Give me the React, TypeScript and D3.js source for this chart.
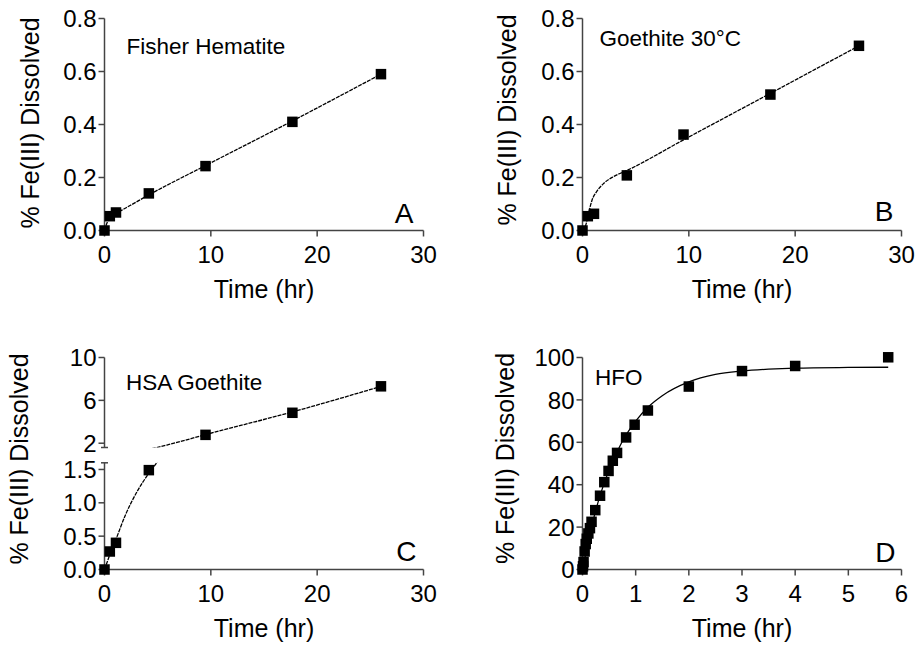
import React from "react";
import * as d3 from "d3";

// sampling times (hr) shared by panels A-C
const timeHr = [0, 0.5, 1.08, 4.17, 9.5, 17.67, 26];
const fisherHematite = [0, 0.054, 0.068, 0.14, 0.243, 0.41, 0.59];
const goethite30 = [0, 0.054, 0.063, 0.208, 0.362, 0.513, 0.697];
const hsaGoethite = [0, 0.27, 0.4, 1.49, 2.78, 4.84, 7.31];

// fitted curves
const fitTimeA = [0, 0.25, 0.5, 1, 2, 4.2, 9.5, 17.6, 26];
const fitA = [0, 0.03, 0.048, 0.062, 0.085, 0.135, 0.245, 0.412, 0.59];
const fitTimeB = [0, 0.3, 0.6, 0.9, 1.3, 2, 3, 4.2, 9.5, 17.6, 26];
const fitB = [0, 0.02, 0.07, 0.115, 0.145, 0.178, 0.205, 0.227, 0.342, 0.516, 0.697];
const fitTimeC = [0, 0.5, 1, 2, 3, 4.2, 5, 6, 9.5, 17.6, 26];
const fitC = [0, 0.22, 0.42, 0.83, 1.15, 1.45, 1.62, 1.86, 2.8, 4.9, 7.3];

// HFO
const timeHFO = [0, 0.01, 0.02, 0.04, 0.06, 0.08, 0.11, 0.14, 0.17, 0.24, 0.33, 0.41, 0.49, 0.57, 0.65, 0.82, 0.98, 1.23, 2, 3, 4, 5.75];
const hfo = [0, 1.5, 3.5, 8.5, 12, 14.5, 17, 19.5, 22.5, 28, 34.8, 41.2, 46.5, 51.3, 55, 62.3, 68.3, 75, 86.3, 93.6, 96, 100.1];
const fitTimeD = [0, 0.25, 0.5, 0.75, 1, 1.25, 1.5, 2, 2.5, 3, 3.5, 4, 5, 5.75];
const fitD = [0, 28, 47, 60.5, 70, 77, 82, 88.5, 92, 93.6, 94.5, 95, 95.3, 95.4];

const xTicksHr = [0, 10, 20, 30];
const xTicksHFO = [0, 1, 2, 3, 4, 5, 6];
const yTicksFrac = [0, 0.2, 0.4, 0.6, 0.8];
const yTicksCLow = [0, 0.5, 1.0, 1.5];
const yTicksCHigh = [2, 6, 10];
const yTicksHFO = [0, 20, 40, 60, 80, 100];

const FONT = "Liberation Sans, Arial, Helvetica, sans-serif";
const AXIS = "#444";

type Seg = {
  domain: [number, number];
  range: [number, number];
  ticks: number[];
  fmt: (v: number) => string;
};

type PanelProps = {
  id: string;
  left: number;
  right: number;
  bottom: number;
  xDomain: [number, number];
  xTicks: number[];
  segs: Seg[];
  times: number[];
  values: number[];
  fitT: number[];
  fitV: number[];
  dashed: boolean;
  label: string;
  labelX: number;
  labelY: number;
  letter: string;
  letterX: number;
  letterY: number;
  titleX: number;
  titleY: number;
};

function Panel(p: PanelProps) {
  const x = d3.scaleLinear().domain(p.xDomain).range([p.left, p.right]);
  const fitPts = p.fitT.map((t, i) => [t, p.fitV[i]] as [number, number]);
  const broken = p.segs.length > 1;
  const sq = 10.5;

  return (
    <g>
      {/* x axis */}
      <line x1={p.left} x2={p.right} y1={p.bottom} y2={p.bottom} stroke={AXIS} strokeWidth={1.5} />
      {p.xTicks.map((t) => (
        <g key={"xt" + t}>
          <line x1={x(t)} x2={x(t)} y1={p.bottom} y2={p.bottom + 6} stroke={AXIS} strokeWidth={1.5} />
          <text x={x(t)} y={p.bottom + 32} textAnchor="middle" fontSize={24} fontFamily={FONT}>
            {t}
          </text>
        </g>
      ))}
      <text x={(p.left + p.right) / 2} y={p.bottom + 67.5} textAnchor="middle" fontSize={25} fontFamily={FONT}>
        Time (hr)
      </text>
      <text
        transform={`translate(${p.titleX},${p.titleY}) rotate(-90)`}
        textAnchor="middle"
        fontSize={25}
        fontFamily={FONT}
      >
        % Fe(III) Dissolved
      </text>

      {p.segs.map((s, si) => {
        const y = d3.scaleLinear().domain(s.domain).range(s.range);
        const clipId = `${p.id}-clip-${si}`;
        const line = d3
          .line<[number, number]>()
          .x((d) => x(d[0]))
          .y((d) => y(d[1]))
          .curve(d3.curveMonotoneX);
        const last = si === p.segs.length - 1;
        const pts = p.times
          .map((t, i) => [t, p.values[i]] as [number, number])
          .filter((d) => (si === 0 ? d[1] >= s.domain[0] : d[1] > s.domain[0]) && (last || d[1] <= s.domain[1]));
        return (
          <g key={"seg" + si}>
            <clipPath id={clipId}>
              <rect x={p.left - 10} y={s.range[1]} width={p.right - p.left + 20} height={s.range[0] - s.range[1]} />
            </clipPath>
            <line x1={p.left} x2={p.left} y1={s.range[0]} y2={s.range[1]} stroke={AXIS} strokeWidth={1.5} />
            {s.ticks.map((t) => (
              <g key={"yt" + t}>
                <line x1={p.left - 6} x2={p.left} y1={y(t)} y2={y(t)} stroke={AXIS} strokeWidth={1.5} />
                <text x={p.left - 8} y={y(t)} dy="0.36em" textAnchor="end" fontSize={24} fontFamily={FONT}>
                  {s.fmt(t)}
                </text>
              </g>
            ))}
            {broken && si > 0 && (
              <line x1={p.left - 3.5} x2={p.left + 3.5} y1={s.range[0]} y2={s.range[0]} stroke={AXIS} strokeWidth={1.5} />
            )}
            {broken && !last && (
              <line x1={p.left - 3.5} x2={p.left + 3.5} y1={s.range[1]} y2={s.range[1]} stroke={AXIS} strokeWidth={1.5} />
            )}
            <path
              d={line(fitPts) || ""}
              fill="none"
              stroke="#000"
              strokeWidth={1.3}
              strokeDasharray={p.dashed ? "4,1" : undefined}
              clipPath={`url(#${clipId})`}
            />
            {pts.map((d, i) => (
              <rect key={"pt" + i} x={x(d[0]) - sq / 2} y={y(d[1]) - sq / 2} width={sq} height={sq} fill="#000" />
            ))}
          </g>
        );
      })}

      <text x={p.labelX} y={p.labelY} fontSize={22.5} fontFamily={FONT}>
        {p.label}
      </text>
      <text x={p.letterX} y={p.letterY} textAnchor="end" fontSize={28} fontFamily={FONT}>
        {p.letter}
      </text>
    </g>
  );
}

const f1 = d3.format(".1f");
const f0 = d3.format("d");

export default function App() {
  return (
    <div>
      <style>{`body{margin:0;background:#fff}`}</style>
      <svg width={917} height={646} style={{ display: "block", background: "#fff" }}>
        <Panel
          id="A"
          left={104.5}
          right={423.5}
          bottom={230.5}
          xDomain={[0, 30]}
          xTicks={xTicksHr}
          segs={[{ domain: [0, 0.8], range: [230.5, 18.5], ticks: yTicksFrac, fmt: f1 }]}
          times={timeHr}
          values={fisherHematite}
          fitT={fitTimeA}
          fitV={fitA}
          dashed
          label="Fisher Hematite"
          labelX={126.5}
          labelY={54}
          letter="A"
          letterX={413.5}
          letterY={222.5}
          titleX={39}
          titleY={123}
        />
        <Panel
          id="B"
          left={582.5}
          right={901.5}
          bottom={230.5}
          xDomain={[0, 30]}
          xTicks={xTicksHr}
          segs={[{ domain: [0, 0.8], range: [230.5, 18.5], ticks: yTicksFrac, fmt: f1 }]}
          times={timeHr}
          values={goethite30}
          fitT={fitTimeB}
          fitV={fitB}
          dashed
          label="Goethite 30°C"
          labelX={599.5}
          labelY={46}
          letter="B"
          letterX={893.5}
          letterY={220.5}
          titleX={516}
          titleY={120}
        />
        <Panel
          id="C"
          left={104.5}
          right={423.5}
          bottom={569.5}
          xDomain={[0, 30]}
          xTicks={xTicksHr}
          segs={[
            { domain: [0, 1.6], range: [569.5, 462.8], ticks: yTicksCLow, fmt: f1 },
            { domain: [1.6, 10], range: [447.5, 357.5], ticks: yTicksCHigh, fmt: f0 },
          ]}
          times={timeHr}
          values={hsaGoethite}
          fitT={fitTimeC}
          fitV={fitC}
          dashed
          label="HSA Goethite"
          labelX={126}
          labelY={389.5}
          letter="C"
          letterX={416.5}
          letterY={561}
          titleX={28}
          titleY={459}
        />
        <Panel
          id="D"
          left={582.5}
          right={901.5}
          bottom={569.5}
          xDomain={[0, 6]}
          xTicks={xTicksHFO}
          segs={[{ domain: [0, 100], range: [569.5, 357.5], ticks: yTicksHFO, fmt: f0 }]}
          times={timeHFO}
          values={hfo}
          fitT={fitTimeD}
          fitV={fitD}
          dashed={false}
          label="HFO"
          labelX={595}
          labelY={385}
          letter="D"
          letterX={895.5}
          letterY={562}
          titleX={514}
          titleY={458.5}
        />
      </svg>
    </div>
  );
}
